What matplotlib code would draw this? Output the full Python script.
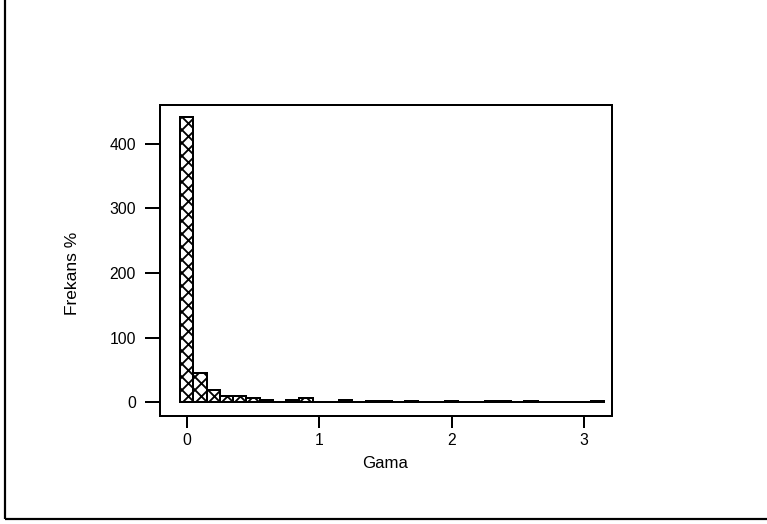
import matplotlib
matplotlib.use("Agg")
import matplotlib.pyplot as plt
from matplotlib.patches import Rectangle
import numpy as np

# Bin midpoints (Gama) and frequencies (%)
bin_centers = [0.0, 0.1, 0.2, 0.3, 0.4, 0.5, 0.6, 0.7, 0.8, 0.9,
               1.0, 1.1, 1.2, 1.3, 1.4, 1.5, 1.6, 1.7, 1.8, 1.9,
               2.0, 2.1, 2.2, 2.3, 2.4, 2.5, 2.6, 2.7, 2.8, 2.9,
               3.0, 3.1]
frequencies = [442, 46, 19, 10, 10, 6, 3, 1, 3, 6,
               1, 1, 3, 0.5, 1.5, 1.5, 0.5, 1.5, 0.5, 0.5,
               1.5, 0.5, 0.5, 1.5, 1.5, 0.5, 1.5, 0.5, 0.5, 0.5,
               0.5, 2]
bin_width = 0.1
x_ticks = [0, 1, 2, 3]
y_ticks = [0, 100, 200, 300, 400]
x_label = "Gama"
y_label = "Frekans %"

DPI = 78
plt.rcParams['font.family'] = ['Liberation Sans', 'DejaVu Sans']
plt.rcParams['hatch.linewidth'] = 1.7
px = 72.0 / DPI

fig = plt.figure(figsize=(767 / DPI, 524 / DPI), dpi=DPI)
fig.patch.set_facecolor('white')

# outer frame (left and bottom visible, top/right beyond canvas)
fig.patches.append(Rectangle((5 / 767, 1 - 519 / 524), 2.0, 2.0,
                             transform=fig.transFigure, fill=False,
                             edgecolor='black', linewidth=2.2 * px))

ax = fig.add_axes([160 / 767, 1 - 416 / 524, (612 - 160) / 767, (416 - 105) / 524])
ax.bar(bin_centers, frequencies, width=bin_width, align='center',
       color='white', edgecolor='black', linewidth=2.0 * px, hatch='xx')

ax.set_xlim(-0.2024, 3.2115)
ax.set_ylim(-21.2, 460.2)
ax.set_xticks(x_ticks)
ax.set_yticks(y_ticks)
ax.tick_params(axis='both', direction='out', labelsize=14.5, width=2.0 * px, color='black')
ax.tick_params(axis='y', length=15 * px, pad=9 * px)
ax.tick_params(axis='x', length=12 * px, pad=5 * px)
for s in ax.spines.values():
    s.set_linewidth(2.0 * px)
ax.set_xlabel(x_label, fontsize=15.5)
ax.set_ylabel(y_label, fontsize=16)
ax.yaxis.set_label_coords(-0.177, 0.46)
ax.xaxis.set_label_coords(0.498, -0.129)

fig.savefig("out.png", dpi=DPI, facecolor='white')
